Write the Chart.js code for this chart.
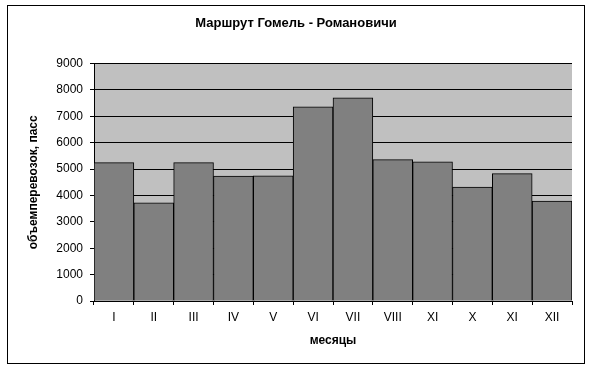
<!DOCTYPE html>
<html lang="ru">
<head>
<meta charset="UTF-8">
<title>Маршрут Гомель - Романовичи</title>
<script src="https://cdn.jsdelivr.net/npm/chart.js"></script>
<style>
  html, body { margin: 0; padding: 0; background: #fff; }
  #wrap { width: 593px; height: 369px; position: relative; }
</style>
</head>
<body>
<div id="wrap"><canvas id="chart" width="593" height="369"></canvas></div>
<script>
// data
const months = ['I', 'II', 'III', 'IV', 'V', 'VI', 'VII', 'VIII', 'XI', 'X', 'XI', 'XII'];
const passengers = [5245, 3720, 5245, 4740, 4750, 7360, 7700, 5360, 5280, 4320, 4830, 3790];
const yTicks = [0, 1000, 2000, 3000, 4000, 5000, 6000, 7000, 8000, 9000];

const font = 'Arial, "Liberation Sans", sans-serif';

// grey plot background + outer frame
const frame = {
    id: 'frame',
    beforeDraw(chart) {
        const { ctx, chartArea: a } = chart;
        ctx.save();
        ctx.fillStyle = '#c0c0c0';
        ctx.fillRect(a.left, a.top, a.right - a.left, a.bottom - a.top);
        ctx.restore();
    },
    afterDraw(chart) {
        const ctx = chart.ctx;
        ctx.save();
        ctx.strokeStyle = '#000';
        ctx.lineWidth = 1;
        ctx.strokeRect(7.5, 5.5, 577, 358);
        ctx.restore();
    }
};

new Chart(document.getElementById('chart'), {
    type: 'bar',
    data: {
        labels: months,
        datasets: [{
            data: passengers,
            backgroundColor: '#808080',
            borderColor: '#000',
            borderWidth: 1,
            barPercentage: 1,
            categoryPercentage: 1
        }]
    },
    options: {
        responsive: false,
        animation: false,
        layout: { padding: { left: 20, right: 21, top: 10, bottom: 20 } },
        plugins: {
            legend: { display: false },
            tooltip: { enabled: false },
            title: {
                display: true,
                text: 'Маршрут Гомель - Романовичи',
                color: '#000',
                font: { family: font, size: 13, weight: 'bold' },
                padding: { top: 6, bottom: 32 }
            }
        },
        scales: {
            x: {
                grid: { display: true, drawOnChartArea: false, color: '#000', tickLength: 4, offset: true },
                border: { color: '#000' },
                ticks: { color: '#000', font: { family: font, size: 12 }, padding: 5, autoSkip: false, maxRotation: 0 },
                title: {
                    display: true,
                    text: 'месяцы',
                    color: '#000',
                    font: { family: font, size: 12, weight: 'bold' },
                    padding: { top: 0, bottom: 1 }
                },
                afterFit(s) { s.height = 48; }
            },
            y: {
                min: 0,
                max: 9000,
                afterBuildTicks(s) { s.ticks = yTicks.map(v => ({ value: v })); },
                grid: { color: '#000', tickLength: 4 },
                border: { color: '#000' },
                ticks: { color: '#000', font: { family: font, size: 12 }, padding: 7, callback: v => String(v) },
                title: {
                    display: true,
                    text: 'объемперевозок, пасс',
                    color: '#000',
                    font: { family: font, size: 12, weight: 'bold' },
                    padding: { top: 6, bottom: 0 }
                },
                afterFit(s) { s.width = 74; }
            }
        }
    },
    plugins: [frame]
});
</script>
</body>
</html>
